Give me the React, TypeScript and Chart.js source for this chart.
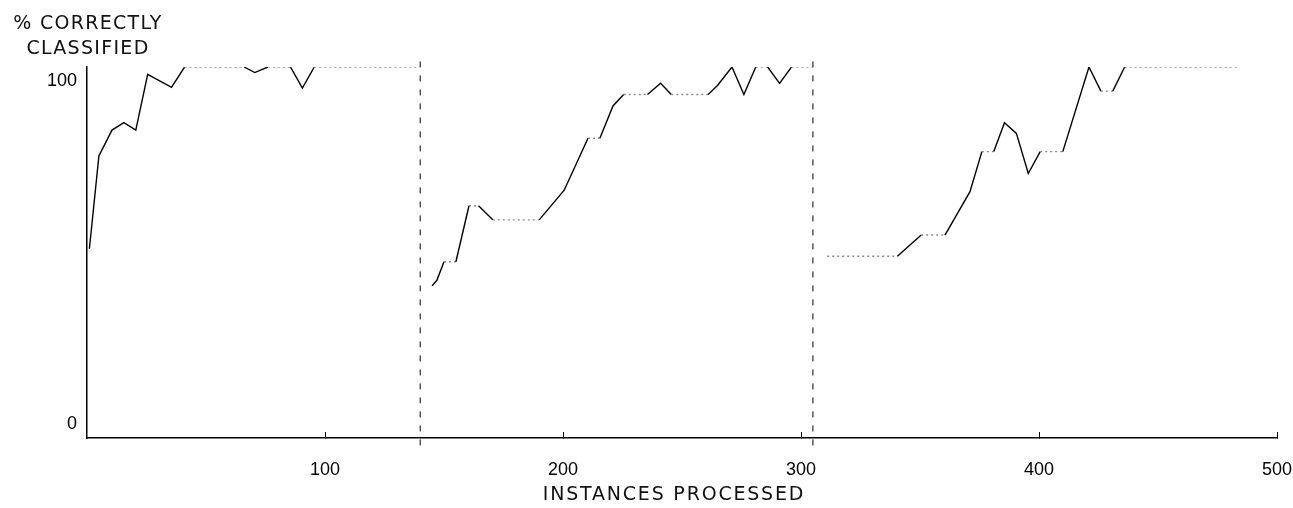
import React, { useEffect, useRef } from 'react';
import { Chart, registerables } from 'chart.js';

Chart.register(...registerables);

// ---- data ----
const xTicks = [100, 200, 300, 400, 500];
const yTicks = [0, 100];
const yTickLabels = ['0', '100'];
const phaseBoundaries = [140, 305];

const run1X = [1, 5, 10.5, 15.5, 20.5, 25.5, 35.5, 41, 66, 70.5, 76, 85.5, 90.5, 95.5, 139];
const run1Y = [51, 76, 83, 85, 83, 98, 94.5, 100, 100, 98.5, 100, 100, 94.3, 100, 100];

const run2X = [145, 147, 150, 155, 160.5, 164.5, 170.5, 190, 200.5, 210.5, 215.5, 221, 225.5, 235.5, 241, 245.5, 261, 265, 271, 276, 281, 286, 291, 296, 305];
const run2Y = [41, 42.5, 47.5, 47.5, 62.6, 62.6, 58.8, 58.8, 66.8, 80.8, 80.8, 89.5, 92.6, 92.6, 95.6, 92.6, 92.6, 95.1, 100, 92.6, 100, 100, 95.6, 100, 100];

const run3X = [311, 340.5, 350.5, 360.5, 371, 376, 381, 385.5, 390.5, 395.5, 400.5, 410, 421, 426, 431, 436, 484];
const run3Y = [49, 49, 54.7, 54.7, 66.4, 77.2, 77.2, 85, 82.1, 71.3, 77.2, 77.2, 100, 93.5, 93.5, 100, 100];

const yTitle = ['% CORRECTLY', 'CLASSIFIED'];
const xTitle = 'INSTANCES PROCESSED';

const toPoints = (xs: number[], ys: number[]) => xs.map((x, i) => ({ x, y: ys[i] }));

const flat = (ctx: any) => ctx.p0.parsed.y === ctx.p1.parsed.y;

function runDataset(xs: number[], ys: number[]) {
  return {
    data: toPoints(xs, ys),
    borderColor: '#000',
    borderWidth: 1.4,
    pointRadius: 0,
    tension: 0,
    segment: {
      borderColor: (ctx: any) => (flat(ctx) ? '#8a8a8a' : '#000'),
      borderDash: (ctx: any) => (flat(ctx) ? [2, 3] : []),
    },
  };
}

function boundaryDataset(x: number) {
  return {
    data: [
      { x, y: 101.5 },
      { x, y: -2 },
    ],
    borderColor: '#000',
    borderWidth: 1,
    borderDash: [6, 8],
    pointRadius: 0,
    clip: false as any,
  };
}

export default function App() {
  const ref = useRef<HTMLCanvasElement | null>(null);

  useEffect(() => {
    if (!ref.current) return;
    const chart = new Chart(ref.current, {
      type: 'line',
      data: {
        datasets: [
          runDataset(run1X, run1Y),
          runDataset(run2X, run2Y),
          runDataset(run3X, run3Y),
          ...phaseBoundaries.map(boundaryDataset),
        ] as any,
      },
      options: {
        animation: false,
        responsive: true,
        maintainAspectRatio: false,
        layout: { padding: { left: 0, top: 67, right: 16, bottom: 0 } },
        plugins: {
          legend: { display: false },
          tooltip: { enabled: false },
        },
        scales: {
          x: {
            type: 'linear',
            min: 0,
            max: 500,
            afterBuildTicks: (s: any) => {
              s.ticks = xTicks.map((v) => ({ value: v }));
            },
            afterFit: (s: any) => {
              s.height = 70;
              s.paddingLeft = 0;
              s.paddingRight = 0;
            },
            grid: {
              display: true,
              drawOnChartArea: false,
              drawTicks: true,
              tickLength: -6,
              color: '#000',
              tickColor: '#000',
              lineWidth: 1,
            },
            border: { display: true, color: '#000', width: 1.5 },
            ticks: {
              autoSkip: false,
              maxRotation: 0,
              color: '#000',
              padding: 27,
              font: { family: 'Liberation Sans', size: 18 },
              callback: (v: any) => String(v),
            },
          },
          y: {
            type: 'linear',
            min: 0,
            max: 100,
            afterBuildTicks: (s: any) => {
              s.ticks = yTicks.map((v) => ({ value: v }));
            },
            afterFit: (s: any) => {
              s.width = 87;
              s.paddingTop = 0;
              s.paddingBottom = 0;
            },
            grid: { display: false, drawTicks: false },
            border: { display: true, color: '#000', width: 1.5 },
            ticks: {
              color: '#000',
              padding: 10,
              font: { family: 'Liberation Sans', size: 18, lineHeight: 1.55 },
              callback: (v: any) => {
                const i = yTicks.indexOf(v);
                const label = i >= 0 ? yTickLabels[i] : '';
                return v === 0 ? [label, ''] : ['', label];
              },
            },
          },
        },
      },
    });
    return () => chart.destroy();
  }, []);

  return (
    <div style={{ position: 'absolute', left: 0, top: 0, width: 1293, height: 508, background: '#fff' }}>
      <canvas ref={ref} />
      <div
        style={{
          position: 'absolute',
          left: 0,
          top: 10,
          width: 176,
          textAlign: 'center',
          fontFamily: 'DejaVu Sans',
          fontSize: 19,
          lineHeight: '24.5px',
          letterSpacing: '1.3px',
          color: '#111',
          whiteSpace: 'nowrap',
        }}
      >
        {yTitle[0]}
        <br />
        {yTitle[1]}
      </div>
      <div
        style={{
          position: 'absolute',
          left: 474,
          top: 482,
          width: 400,
          textAlign: 'center',
          fontFamily: 'DejaVu Sans',
          fontSize: 19,
          lineHeight: '22px',
          letterSpacing: '1.8px',
          color: '#111',
          whiteSpace: 'nowrap',
        }}
      >
        {xTitle}
      </div>
    </div>
  );
}
